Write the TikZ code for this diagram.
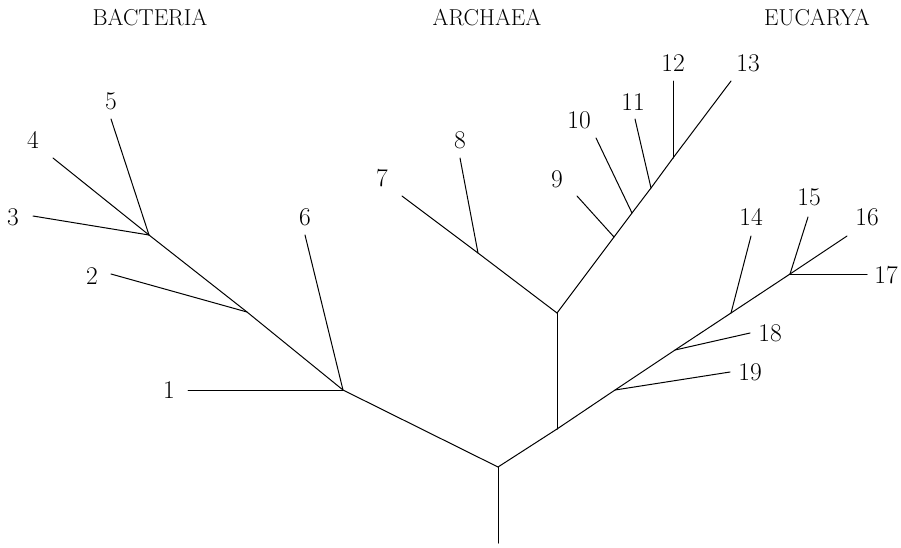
\documentclass[tikz,border=0pt]{standalone}
\usepackage{fontspec}
\tikzset{
  branch/.style={line width=1pt, line cap=round},
  leaflabel/.style={inner sep=0pt, font=\fontsize{25.5}{30}\selectfont},
  domtitle/.style={inner sep=0pt, font=\fontsize{23}{27}\selectfont},
}
\begin{document}
\begin{tikzpicture}[x=1pt,y=-1pt]
\useasboundingbox (0,0) rectangle (901,547);
% titles
\node[domtitle] (tB) at (150,17.5) {BACTERIA};
\node[domtitle] (tA) at (487,17.5) {ARCHAEA};
\node[domtitle] (tE) at (817,17.5) {EUCARYA};
% junctions
\coordinate (r0) at (498,543);
\coordinate (j0) at (498,467);
\coordinate (bA) at (343,390);
\coordinate (bB) at (247,312);
\coordinate (bC) at (149,235);
\coordinate (jR) at (557,429);
\coordinate (aJ) at (557,313);
\coordinate (a8) at (478,253);
\coordinate (a9) at (614,237);
\coordinate (a10) at (632,213);
\coordinate (a11) at (651,188);
\coordinate (a12) at (673,158);
\coordinate (e19) at (615,390);
\coordinate (e18) at (675,350);
\coordinate (e14) at (731,313);
\coordinate (e15) at (790,274);
% leaf ends
\coordinate (l1) at (188,390);
\coordinate (l2) at (111,274);
\coordinate (l3) at (33,216);
\coordinate (l4) at (53,158);
\coordinate (l5) at (111,119);
\coordinate (l6) at (305,235);
\coordinate (l7) at (402,196);
\coordinate (l8) at (460,158);
\coordinate (l9) at (577,196);
\coordinate (l10) at (596,138);
\coordinate (l11) at (635,119);
\coordinate (l12) at (673,81);
\coordinate (l13) at (731,81);
\coordinate (l14) at (751,236);
\coordinate (l15) at (808,217);
\coordinate (l16) at (847,236);
\coordinate (l17) at (867,274);
\coordinate (l18) at (750,333);
\coordinate (l19) at (730,372);
% labels
\node[leaflabel] (n1) at (169,390) {1};
\node[leaflabel] (n2) at (92,276) {2};
\node[leaflabel] (n3) at (13,217) {3};
\node[leaflabel] (n4) at (33,140) {4};
\node[leaflabel] (n5) at (111,101) {5};
\node[leaflabel] (n6) at (305,217) {6};
\node[leaflabel] (n7) at (382,178) {7};
\node[leaflabel] (n8) at (460,140) {8};
\node[leaflabel] (n9) at (557,179) {9};
\node[leaflabel] (n10) at (579,120) {10};
\node[leaflabel] (n11) at (633,102) {11};
\node[leaflabel] (n12) at (673,63) {12};
\node[leaflabel] (n13) at (748,63) {13};
\node[leaflabel] (n14) at (751,217) {14};
\node[leaflabel] (n15) at (809,197) {15};
\node[leaflabel] (n16) at (867,217) {16};
\node[leaflabel] (n17) at (886,275) {17};
\node[leaflabel] (n18) at (770,333) {18};
\node[leaflabel] (n19) at (750,372) {19};
% trunk
\draw[branch] (r0) -- (j0);
% bacteria
\draw[branch] (j0) -- (bA) -- (bB) -- (bC);
\draw[branch] (bA) -- (l1);
\draw[branch] (bA) -- (l6);
\draw[branch] (bB) -- (l2);
\draw[branch] (bC) -- (l3);
\draw[branch] (bC) -- (l4);
\draw[branch] (bC) -- (l5);
% archaea
\draw[branch] (jR) -- (aJ);
\draw[branch] (aJ) -- (a8) -- (l7);
\draw[branch] (a8) -- (l8);
\draw[branch] (aJ) -- (a9) -- (a10) -- (a11) -- (a12) -- (l13);
\draw[branch] (a9) -- (l9);
\draw[branch] (a10) -- (l10);
\draw[branch] (a11) -- (l11);
\draw[branch] (a12) -- (l12);
% eucarya
\draw[branch] (j0) -- (jR) -- (e19) -- (e18) -- (e14) -- (e15) -- (l16);
\draw[branch] (e19) -- (l19);
\draw[branch] (e18) -- (l18);
\draw[branch] (e14) -- (l14);
\draw[branch] (e15) -- (l15);
\draw[branch] (e15) -- (l17);
\end{tikzpicture}
\end{document}
